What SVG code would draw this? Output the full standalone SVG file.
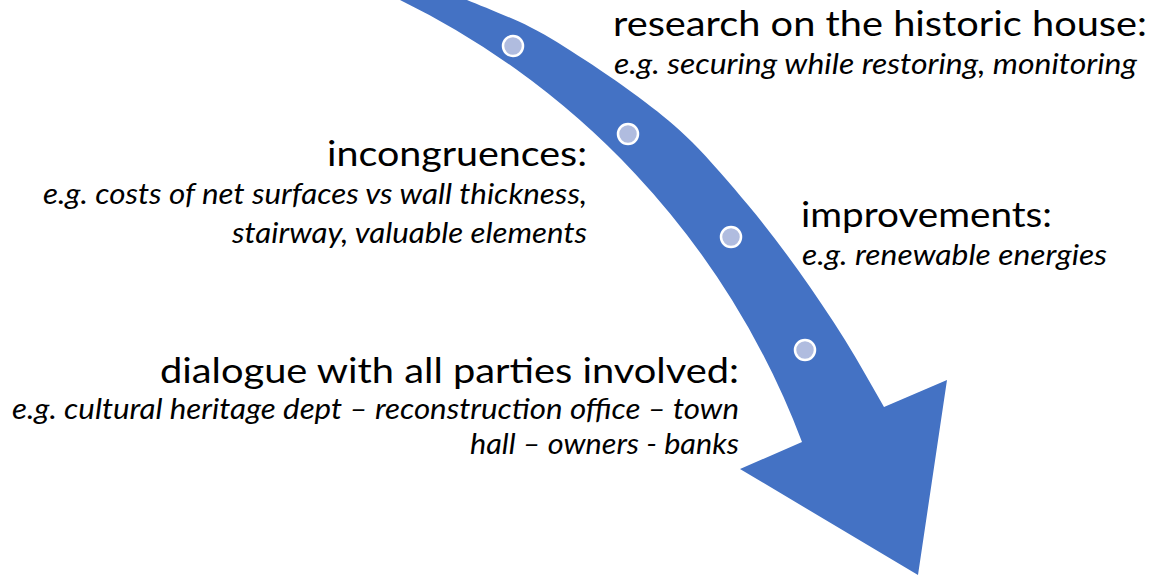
<svg xmlns="http://www.w3.org/2000/svg" width="1151" height="578" viewBox="0 0 1151 578">
  <style>
    .head { font-family: Lato, "Open Sans", "Liberation Sans", sans-serif; font-size: 34px; fill: #000; }
    .sub { font-family: Lato, "Open Sans", "Liberation Sans", sans-serif; font-size: 28px; font-style: italic; fill: #000; }
    .dot { fill: #B0BCDF; stroke: #FFFFFF; stroke-width: 2.5; }
    .arrow { fill: #4472C4; }
  </style>
  <rect width="1151" height="578" fill="#FFFFFF"/>
  <g id="connectors">
    <path class="arrow" d="M 378.8 -10 A 809.5 809.5 0 0 1 802 442 L 740 469 L 918 575 L 947 380 L 884 407 C 871 384.7 859.3 362.8 845 340 C 830.7 317.2 814.2 292.5 798 270 C 781.8 247.5 765.7 226.3 748 205 C 730.3 183.7 709.2 159.2 692 142 C 674.8 124.8 662.8 115.7 645 102 C 627.2 88.3 604.2 72.5 585 60 C 565.8 47.5 549.7 37 530 27 C 510.3 17 481.8 6.2 467 0 C 452.2 -6.2 449.7 -6.7 441 -10 Z"/>
    <circle class="dot" cx="513" cy="46" r="10"/>
    <circle class="dot" cx="628" cy="134" r="10"/>
    <circle class="dot" cx="731" cy="237" r="10"/>
    <circle class="dot" cx="805" cy="350" r="10"/>
  </g>
  <g id="node-research">
    <text class="head" x="613" y="36" textLength="534" lengthAdjust="spacingAndGlyphs">research on the historic house:</text>
    <text class="sub" x="614" y="74" textLength="523" lengthAdjust="spacingAndGlyphs">e.g. securing while restoring, monitoring</text>
  </g>
  <g id="node-incongruences">
    <text class="head" x="587" y="166" text-anchor="end" textLength="260" lengthAdjust="spacingAndGlyphs">incongruences:</text>
    <text class="sub" x="587" y="204" text-anchor="end" textLength="544" lengthAdjust="spacingAndGlyphs">e.g. costs of net surfaces vs wall thickness,</text>
    <text class="sub" x="587" y="243" text-anchor="end" textLength="355" lengthAdjust="spacingAndGlyphs">stairway, valuable elements</text>
  </g>
  <g id="node-improvements">
    <text class="head" x="801" y="227" textLength="251" lengthAdjust="spacingAndGlyphs">improvements:</text>
    <text class="sub" x="802" y="265" textLength="305" lengthAdjust="spacingAndGlyphs">e.g. renewable energies</text>
  </g>
  <g id="node-dialogue">
    <text class="head" x="739" y="383" text-anchor="end" textLength="579" lengthAdjust="spacingAndGlyphs">dialogue with all parties involved:</text>
    <text class="sub" x="739" y="419" text-anchor="end" textLength="727" lengthAdjust="spacingAndGlyphs">e.g. cultural heritage dept – reconstruction office – town</text>
    <text class="sub" x="739" y="454" text-anchor="end" textLength="269" lengthAdjust="spacingAndGlyphs">hall – owners - banks</text>
  </g>
</svg>
